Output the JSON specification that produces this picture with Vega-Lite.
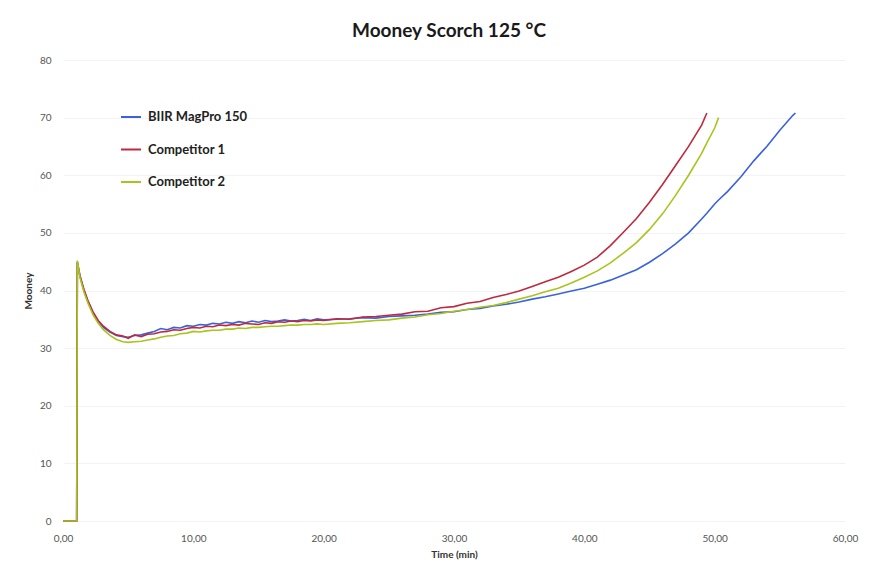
{
  "$schema": "https://vega.github.io/schema/vega-lite/v6.json",
  "width": 782,
  "height": 461,
  "autosize": {"type": "none"},
  "padding": {"left": 63, "top": 60, "right": 29, "bottom": 54},
  "background": "white",
  "title": {"text": "Mooney Scorch 125 °C", "font": "Lato", "fontSize": 19, "fontWeight": "bold", "color": "#1a1a1a", "anchor": "middle", "offset": 14, "dx": -5},
  "config": {"view": {"stroke": null}, "font": "Lato"},
  "data": {"values": [
    {"t": 0, "b": 0, "r": 0, "g": 0},
    {"t": 1.05, "b": 0, "r": 0, "g": 0},
    {"t": 1.1, "b": 45, "r": 44.8, "g": 45.2},
    {"t": 1.3, "b": 42.6, "r": 42.5, "g": 42.3},
    {"t": 1.6, "b": 40.1, "r": 40.2, "g": 39.8},
    {"t": 1.9, "b": 38.2, "r": 38.3, "g": 37.9},
    {"t": 2.3, "b": 36.2, "r": 36.3, "g": 35.8},
    {"t": 2.7, "b": 34.7, "r": 34.8, "g": 34.3},
    {"t": 3.1, "b": 33.6, "r": 33.8, "g": 33.2},
    {"t": 3.6, "b": 32.8, "r": 32.9, "g": 32.2},
    {"t": 4.1, "b": 32.2, "r": 32.3, "g": 31.5},
    {"t": 4.6, "b": 32.0, "r": 32.1, "g": 31.1},
    {"t": 5.0, "b": 31.9, "r": 31.7, "g": 31.0},
    {"t": 5.5, "b": 32.2, "r": 32.3, "g": 31.1},
    {"t": 6.0, "b": 32.3, "r": 32.0, "g": 31.2},
    {"t": 6.5, "b": 32.6, "r": 32.4, "g": 31.4},
    {"t": 7.0, "b": 32.9, "r": 32.5, "g": 31.6},
    {"t": 7.5, "b": 33.4, "r": 32.8, "g": 31.9},
    {"t": 8.0, "b": 33.2, "r": 32.9, "g": 32.1},
    {"t": 8.5, "b": 33.6, "r": 33.2, "g": 32.2},
    {"t": 9.0, "b": 33.5, "r": 33.1, "g": 32.5},
    {"t": 9.5, "b": 33.9, "r": 33.4, "g": 32.6},
    {"t": 10.0, "b": 33.8, "r": 33.6, "g": 32.9},
    {"t": 10.5, "b": 34.1, "r": 33.5, "g": 32.8},
    {"t": 11.0, "b": 34.0, "r": 33.8, "g": 33.0},
    {"t": 11.5, "b": 34.3, "r": 33.7, "g": 33.1},
    {"t": 12.0, "b": 34.2, "r": 34.0, "g": 33.1},
    {"t": 12.5, "b": 34.5, "r": 33.9, "g": 33.3},
    {"t": 13.0, "b": 34.3, "r": 34.1, "g": 33.3},
    {"t": 13.5, "b": 34.6, "r": 34.0, "g": 33.5},
    {"t": 14.0, "b": 34.4, "r": 34.3, "g": 33.4},
    {"t": 14.5, "b": 34.7, "r": 34.2, "g": 33.6},
    {"t": 15.0, "b": 34.5, "r": 34.1, "g": 33.6},
    {"t": 15.5, "b": 34.8, "r": 34.4, "g": 33.7},
    {"t": 16.0, "b": 34.6, "r": 34.3, "g": 33.8},
    {"t": 16.5, "b": 34.7, "r": 34.6, "g": 33.8},
    {"t": 17.0, "b": 34.9, "r": 34.5, "g": 33.9},
    {"t": 17.5, "b": 34.7, "r": 34.7, "g": 34.0},
    {"t": 18.0, "b": 34.8, "r": 34.6, "g": 34.0},
    {"t": 18.5, "b": 35.0, "r": 34.8, "g": 34.1},
    {"t": 19.0, "b": 34.8, "r": 34.7, "g": 34.1},
    {"t": 19.5, "b": 35.1, "r": 34.9, "g": 34.2},
    {"t": 20.0, "b": 34.9, "r": 34.8, "g": 34.1},
    {"t": 21.0, "b": 35.0, "r": 35.1, "g": 34.3},
    {"t": 22.0, "b": 35.1, "r": 35.0, "g": 34.4},
    {"t": 23.0, "b": 35.3, "r": 35.4, "g": 34.6},
    {"t": 24.0, "b": 35.2, "r": 35.5, "g": 34.8},
    {"t": 25.0, "b": 35.5, "r": 35.7, "g": 34.9},
    {"t": 26.0, "b": 35.6, "r": 35.9, "g": 35.2},
    {"t": 27.0, "b": 35.7, "r": 36.3, "g": 35.4},
    {"t": 28.0, "b": 35.9, "r": 36.4, "g": 35.8},
    {"t": 29.0, "b": 36.2, "r": 37.0, "g": 36.0},
    {"t": 30.0, "b": 36.3, "r": 37.2, "g": 36.4},
    {"t": 31.0, "b": 36.7, "r": 37.8, "g": 36.7},
    {"t": 32.0, "b": 36.9, "r": 38.1, "g": 37.1},
    {"t": 33.0, "b": 37.3, "r": 38.8, "g": 37.4},
    {"t": 34.0, "b": 37.6, "r": 39.3, "g": 37.9},
    {"t": 35.0, "b": 38.0, "r": 39.9, "g": 38.5},
    {"t": 36.0, "b": 38.5, "r": 40.7, "g": 39.1},
    {"t": 37.0, "b": 38.9, "r": 41.5, "g": 39.8},
    {"t": 38.0, "b": 39.4, "r": 42.3, "g": 40.4},
    {"t": 39.0, "b": 39.9, "r": 43.3, "g": 41.3},
    {"t": 40.0, "b": 40.4, "r": 44.4, "g": 42.3},
    {"t": 41.0, "b": 41.1, "r": 45.8, "g": 43.4},
    {"t": 42.0, "b": 41.8, "r": 47.8, "g": 44.8},
    {"t": 43.0, "b": 42.7, "r": 50.1, "g": 46.5},
    {"t": 44.0, "b": 43.6, "r": 52.5, "g": 48.3},
    {"t": 45.0, "b": 44.9, "r": 55.3, "g": 50.6},
    {"t": 46.0, "b": 46.4, "r": 58.4, "g": 53.3},
    {"t": 47.0, "b": 48.1, "r": 61.7, "g": 56.5},
    {"t": 48.0, "b": 50.0, "r": 65.0, "g": 60.0},
    {"t": 49.0, "b": 52.4, "r": 68.7, "g": 63.8},
    {"t": 49.4, "b": 53.4, "r": 70.8, "g": 65.6},
    {"t": 50.0, "b": 55.0, "r": null, "g": 68.2},
    {"t": 50.3, "b": 55.7, "r": null, "g": 70.0},
    {"t": 51.0, "b": 57.2, "r": null, "g": null},
    {"t": 52.0, "b": 59.7, "r": null, "g": null},
    {"t": 53.0, "b": 62.5, "r": null, "g": null},
    {"t": 54.0, "b": 65.0, "r": null, "g": null},
    {"t": 55.0, "b": 67.8, "r": null, "g": null},
    {"t": 56.0, "b": 70.4, "r": null, "g": null},
    {"t": 56.2, "b": 70.8, "r": null, "g": null}
  ]},
  "transform": [
    {"fold": ["b", "r", "g"], "as": ["series", "value"]},
    {"filter": "datum.value != null"}
  ],
  "mark": {"type": "line", "strokeWidth": 1.6, "interpolate": "linear"},
  "encoding": {
    "x": {"field": "t", "type": "quantitative",
      "scale": {"domain": [0, 60], "nice": false},
      "axis": {"title": "Time (min)", "values": [0, 10, 20, 30, 40, 50, 60],
        "labelExpr": "replace(format(datum.value, '.2f'), '.', ',')",
        "labelFlush": false,
        "grid": false, "domain": false, "ticks": false,
        "labelFont": "Lato", "labelFontSize": 10, "labelColor": "#555555", "labelPadding": 12,
        "titleFont": "Lato", "titleFontSize": 10, "titleFontWeight": "bold", "titleColor": "#333333", "titlePadding": 6}},
    "y": {"field": "value", "type": "quantitative",
      "scale": {"domain": [0, 80], "nice": false},
      "axis": {"title": "Mooney", "values": [0, 10, 20, 30, 40, 50, 60, 70, 80],
        "grid": true, "gridColor": "#f3f3f3", "gridWidth": 1,
        "domain": false, "ticks": false,
        "labelFont": "Lato", "labelFontSize": 10, "labelColor": "#555555", "labelPadding": 12,
        "titleFont": "Lato", "titleFontSize": 10, "titleFontWeight": "bold", "titleColor": "#333333", "titlePadding": 6}},
    "color": {"field": "series", "type": "nominal",
      "scale": {"domain": ["b", "r", "g"], "range": ["#3a62dc", "#c0283f", "#a9c41c"]},
      "legend": {"title": null, "orient": "none", "legendX": 57, "legendY": 46,
        "labelExpr": "datum.label == 'b' ? 'BIIR MagPro 150' : datum.label == 'r' ? 'Competitor 1' : 'Competitor 2'",
        "symbolType": "stroke", "symbolSize": 400, "symbolStrokeWidth": 2,
        "labelFont": "Lato", "labelFontSize": 13, "labelFontWeight": "bold", "labelColor": "#222222",
        "labelOffset": 6, "rowPadding": 14.5}},
    "order": {"field": "t", "type": "quantitative"}
  }
}
